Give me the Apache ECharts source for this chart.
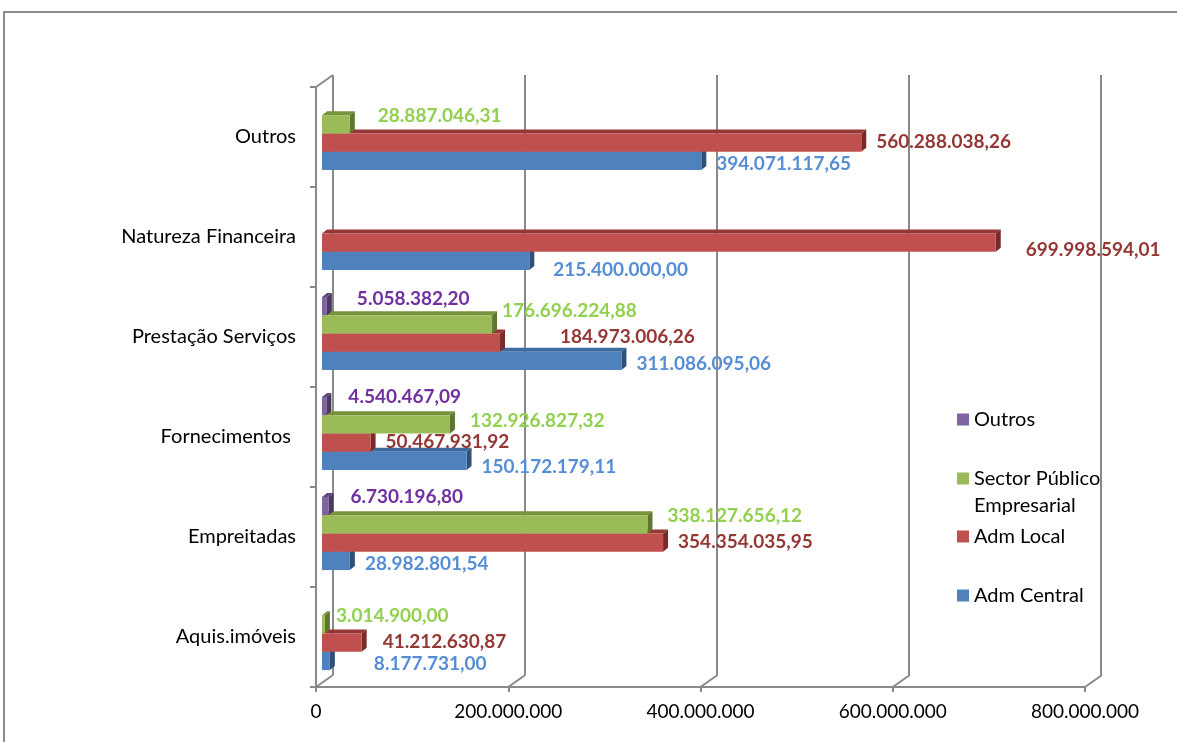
<!DOCTYPE html>
<html>
<head>
<meta charset="utf-8">
<script src="https://cdn.jsdelivr.net/npm/echarts@6/dist/echarts.min.js"></script>
<style>
  html, body { margin: 0; padding: 0; background: #ffffff; }
  #chart { width: 1177px; height: 742px; }
</style>
</head>
<body>
<div id="chart"></div>
<script>
// Categories, top to bottom
const categories = ['Outros', 'Natureza Financeira', 'Prestação Serviços', 'Fornecimentos ', 'Empreitadas', 'Aquis.imóveis'];

// Series values (euros), one entry per category
const admCentral    = [394071117.65, 215400000.00, 311086095.06, 150172179.11, 28982801.54, 8177731.00];
const admLocal      = [560288038.26, 699998594.01, 184973006.26, 50467931.92, 354354035.95, 41212630.87];
const sectorPublico = [28887046.31, null, 176696224.88, 132926827.32, 338127656.12, 3014900.00];
const outrosEnt     = [null, null, 5058382.20, 4540467.09, 6730196.80, null];

const seriesNames = ['Adm Central', 'Adm Local', 'Sector Público Empresarial', 'Outros'];
const seriesValues = [admCentral, admLocal, sectorPublico, outrosEnt];

// Value axis ticks
const axisTicks = [0, 200000000, 400000000, 600000000, 800000000];

// Look of each series: front face, top face, side face, label colour,
// position of the bar inside its category (0 = top), label gap and lift
const looks = [
  { face: '#4F81BD', top: '#3F6A9E', side: '#2F5079', label: '#558ED5', slot: 3, gap: 15, dy: 2.5 },
  { face: '#C0504D', top: '#953735', side: '#7A2B29', label: '#953735', slot: 2, gap: 15, dy: -1 },
  { face: '#9BBB59', top: '#77933C', side: '#5E7630', label: '#92D050', slot: 1, gap: 20, dy: -8 },
  { face: '#8064A2', top: '#5F497A', side: '#4A3961', label: '#7030A0', slot: 0, gap: 22, dy: -9.5 }
];

// Individual label nudges [dx, dy], keyed by category index and series index
const labelNudge = {
  '0-2': [8, 0],
  '1-1': [15, 8], '1-0': [9, 6.5],
  '2-3': [8, 2], '2-2': [-10, -5], '2-1': [45, -5],
  '3-2': [0, 5], '3-0': [0, 3],
  '5-2': [-9, 0], '5-1': [6, 0], '5-0': [29, 0]
};

// Three planes of the pseudo-3D frame: front, bars (middle) and back wall
const W = 1177, H = 742;
const frontPlane = { left: 316, right: W - 1085, top: 87, bottom: H - 687 };
const barPlane   = { left: 322, right: W - 1092, top: 83.5, bottom: H - 683.5 };
const backPlane  = { left: 333, right: W - 1101, top: 75, bottom: H - 675 };
const depthX = backPlane.left - frontPlane.left;
const depthY = frontPlane.top - backPlane.top;

const frameColor = '#8a8a8a';
const font = 'Lato, "Open Sans", sans-serif';

function ptNumber(v, dec) {
  const s = Number(v).toFixed(dec);
  const parts = s.split('.');
  const ip = parts[0].replace(/\B(?=(\d{3})+(?!\d))/g, '.');
  return parts[1] ? ip + ',' + parts[1] : ip;
}

function valueAxis(idx, extra) {
  return Object.assign({
    type: 'value', gridIndex: idx, min: 0, max: 800000000, interval: 200000000,
    axisLine: { show: false }, axisTick: { show: false }, axisLabel: { show: false },
    splitLine: { show: false }
  }, extra || {});
}
function catAxis(idx, extra) {
  return Object.assign({
    type: 'category', gridIndex: idx, data: categories, inverse: true,
    axisLine: { show: false }, axisTick: { show: false }, axisLabel: { show: false },
    splitLine: { show: false }
  }, extra || {});
}

const D = 5, E = 4; // bar depth in pixels

const barSeries = seriesValues.map(function (vals, si) {
  const lk = looks[si];
  return {
    type: 'custom',
    name: seriesNames[si],
    xAxisIndex: 0, yAxisIndex: 0,
    itemStyle: { color: lk.face },
    encode: { x: 0, y: 1 },
    data: vals.map(function (v, ci) { return [v, ci]; }),
    renderItem: function (params, api) {
      const v = api.value(0);
      const ci = api.value(1);
      if (v == null || isNaN(v)) return null;
      const c0 = api.coord([0, ci]);
      const c1 = api.coord([v, ci]);
      const band = api.size([0, 1])[1];
      const h = band * 0.183;
      const y0 = c0[1] - 2 * h + lk.slot * h;
      const x0 = c0[0], x1 = c1[0];
      const nudge = labelNudge[ci + '-' + si] || [0, 0];
      const base = 10 + (3 - lk.slot) * 3;
      return {
        type: 'group',
        children: [
          { type: 'polygon', z2: base,
            shape: { points: [[x0, y0], [x0 + D, y0 - E], [x1 + D, y0 - E], [x1, y0]] },
            style: { fill: lk.top } },
          { type: 'polygon', z2: base + 1,
            shape: { points: [[x1, y0], [x1 + D, y0 - E], [x1 + D, y0 + h - E], [x1, y0 + h]] },
            style: { fill: lk.side } },
          { type: 'rect', z2: base + 2,
            shape: { x: x0, y: y0, width: x1 - x0, height: h },
            style: { fill: lk.face } },
          { type: 'text', z2: 100,
            style: {
              text: ptNumber(v, 2),
              x: x1 + lk.gap + nudge[0],
              y: y0 + h / 2 + lk.dy + nudge[1],
              fill: lk.label,
              fontFamily: font, fontSize: 19, fontWeight: 'bold',
              align: 'left', verticalAlign: 'middle'
            } }
        ]
      };
    }
  };
});

// Diagonal edges joining the front axis to the back wall
const frameSeries = {
  type: 'custom',
  name: 'frame',
  xAxisIndex: 2, yAxisIndex: 2,
  silent: true,
  encode: { x: 0, y: 1 },
  data: axisTicks.map(function (t) { return [t, 0]; }),
  renderItem: function (params, api) {
    const cs = params.coordSys;
    const x = api.coord([api.value(0), 0])[0];
    const yb = cs.y + cs.height;
    const st = { stroke: frameColor, lineWidth: 2, fill: null };
    const kids = [{ type: 'line', shape: { x1: x, y1: yb, x2: x + depthX, y2: yb - depthY }, style: st }];
    if (params.dataIndex === 0) {
      kids.push({ type: 'line', shape: { x1: x, y1: cs.y, x2: x + depthX, y2: cs.y - depthY }, style: st });
    }
    return { type: 'group', children: kids };
  }
};

const legendBase = {
  left: 957, orient: 'vertical', padding: 0, itemGap: 0,
  itemWidth: 12, itemHeight: 12, icon: 'rect', selectedMode: false,
  textStyle: { fontFamily: font, fontSize: 20, color: '#000', lineHeight: 27 }
};

const option = {
  animation: false,
  backgroundColor: '#ffffff',
  grid: [
    Object.assign({ containLabel: false }, barPlane),
    Object.assign({ containLabel: false }, backPlane),
    Object.assign({ containLabel: false }, frontPlane)
  ],
  xAxis: [
    valueAxis(0),
    valueAxis(1, { splitLine: { show: true, lineStyle: { color: frameColor, width: 2 } } }),
    valueAxis(2, {
      axisLine: { show: true, onZero: false, lineStyle: { color: frameColor, width: 2 } },
      axisTick: { show: true, length: 5, lineStyle: { color: frameColor, width: 2 } },
      axisLabel: { show: true, margin: 15, color: '#000', fontFamily: font, fontSize: 19,
        formatter: function (v) { return ptNumber(v, 0); } }
    })
  ],
  yAxis: [
    catAxis(0),
    catAxis(1),
    catAxis(2, {
      axisLine: { show: true, onZero: false, lineStyle: { color: frameColor, width: 2 } },
      axisTick: { show: true, length: 6, lineStyle: { color: frameColor, width: 2 } },
      axisLabel: { show: true, margin: 20, color: '#000', fontFamily: font, fontSize: 20 }
    })
  ],
  legend: [
    Object.assign({}, legendBase, { data: ['Outros'], top: 406 }),
    Object.assign({}, legendBase, { data: ['Sector Público Empresarial'], top: 438,
      formatter: function () { return '\nSector Público\nEmpresarial'; } }),
    Object.assign({}, legendBase, { data: ['Adm Local'], top: 523 }),
    Object.assign({}, legendBase, { data: ['Adm Central'], top: 582 })
  ],
  // Chart area border (its right and bottom edges fall outside the page)
  graphic: [{
    type: 'polyline', silent: true, z: -1,
    shape: { points: [[4, 800], [4, 12], [1300, 12]] },
    style: { fill: null, stroke: '#8c8c8c', lineWidth: 2 }
  }],
  series: [frameSeries].concat(barSeries)
};

const chart = echarts.init(document.getElementById('chart'), null, { renderer: 'canvas' });
chart.setOption(option);
</script>
</body>
</html>
